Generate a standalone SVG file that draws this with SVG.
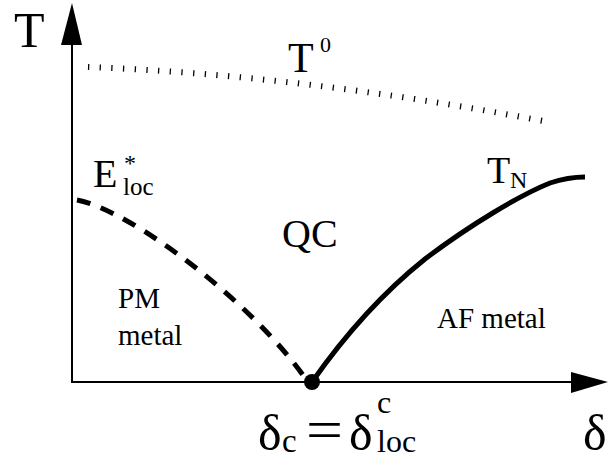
<svg xmlns="http://www.w3.org/2000/svg" width="608" height="461" viewBox="0 0 608 461">
<style>
.axis{stroke:#000;stroke-width:2;fill:none}
.head{fill:#000}
.lbl{font-family:"Liberation Serif","Times New Roman",serif;fill:#000}
</style>
<rect width="608" height="461" fill="#fff"/>
<g id="axes">
<line class="axis" x1="72" y1="383" x2="72" y2="44"/>
<polygon class="head" points="61,45 82,45 72,3"/>
<line class="axis" x1="71" y1="382" x2="572" y2="382"/>
<polygon class="head" points="571,372 571,393 608,382"/>
</g>
<g id="connectors">
<path id="T0-line" d="M88,67 Q300,75 543,121" fill="none" stroke="#000" stroke-width="6" stroke-dasharray="1.3 10.4"/>
<path id="Eloc-line" d="M77,200 C130,210 250,300 305,378" fill="none" stroke="#000" stroke-width="5" stroke-dasharray="14 11"/>
<path id="TN-line" d="M312,382 C345,335 380,295 425,259 C470,225 520,195 550,183 C565,178 575,177 585,177" fill="none" stroke="#000" stroke-width="5"/>
</g>
<g id="qcp">
<circle cx="312" cy="382" r="8" fill="#000"/>
</g>
<g class="lbl">
<g id="label-T"><text x="14" y="47" font-size="50">T</text></g>
<g id="label-T0"><text x="288" y="72" font-size="42">T</text><text x="320" y="52" font-size="22">0</text></g>
<g id="label-Eloc"><text x="93" y="187" font-size="40">E</text><text x="124" y="171" font-size="24">*</text><text x="123" y="195" font-size="25">loc</text></g>
<g id="label-QC"><text x="282" y="247" font-size="40">QC</text></g>
<g id="label-TN"><text x="487" y="183" font-size="38">T</text><text x="510" y="188" font-size="24">N</text></g>
<g id="label-PM"><text x="118" y="308" font-size="29">PM</text><text x="118" y="345" font-size="29">metal</text></g>
<g id="label-AF"><text x="437" y="328" font-size="29">AF metal</text></g>
<g id="label-delta-c">
<text x="258" y="450" font-size="50">δ</text><text x="282" y="452" font-size="33">c</text>
<text x="306" y="449" font-size="56" textLength="37" lengthAdjust="spacingAndGlyphs">=</text>
<text x="349" y="450" font-size="50">δ</text><text x="377" y="413" font-size="32">c</text><text x="377" y="452" font-size="32">loc</text>
</g>
<g id="label-delta"><text x="583" y="450" font-size="50">δ</text></g>
</g>
</svg>
